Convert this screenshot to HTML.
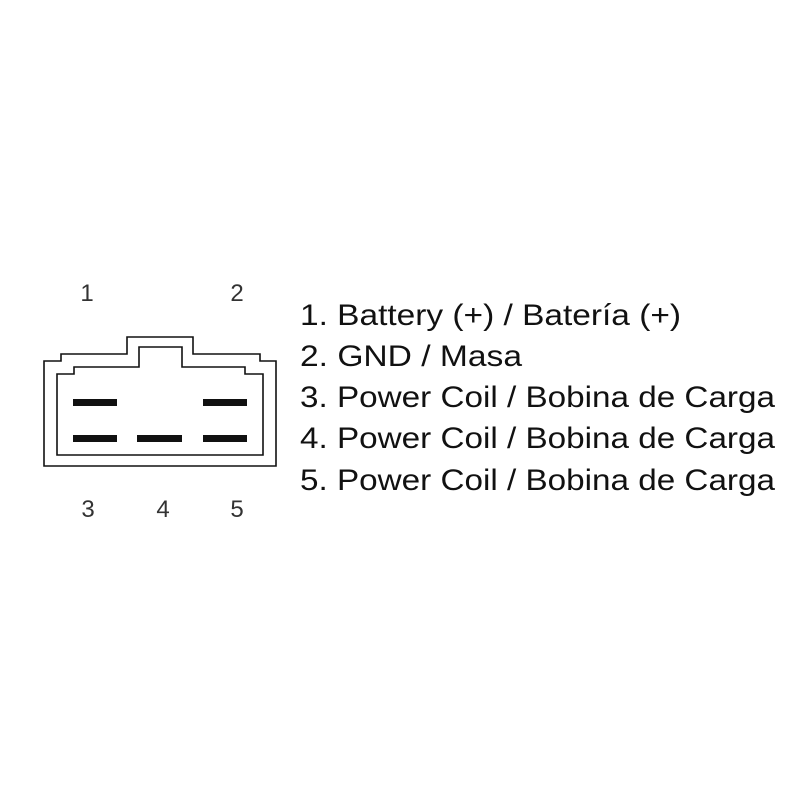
<!DOCTYPE html>
<html><head><style>body{margin:0;background:#fff}</style></head><body>
<svg width="800" height="800" xmlns="http://www.w3.org/2000/svg">
<rect width="800" height="800" fill="#fff"/>
<g fill="none" stroke="#111" stroke-width="1.6">
<path d="M44,361 H61 V354 H127 V337 H193 V354 H260 V361 H276 V466 H44 Z"/>
<path d="M57,374 H74 V367 H139 V347 H182 V367 H245 V374 H263 V455 H57 Z"/>
</g>
<g fill="#111">
<rect x="73" y="399" width="44" height="7"/>
<rect x="203" y="399" width="44" height="7"/>
<rect x="73" y="435" width="44" height="7"/>
<rect x="137" y="435" width="45" height="7"/>
<rect x="203" y="435" width="44" height="7"/>
</g>
<g font-family="Liberation Sans, sans-serif" font-size="24" fill="#333" text-anchor="middle">
<text x="87" y="301">1</text>
<text x="237" y="301">2</text>
<text x="88" y="517">3</text>
<text x="163" y="517">4</text>
<text x="237" y="517">5</text>
</g>
<g font-family="Liberation Sans, sans-serif" font-size="30" fill="#111">
<text x="300" y="325" textLength="381" lengthAdjust="spacingAndGlyphs">1. Battery (+) / Batería (+)</text>
<text x="300" y="366" textLength="222" lengthAdjust="spacingAndGlyphs">2. GND / Masa</text>
<text x="300" y="407" textLength="475" lengthAdjust="spacingAndGlyphs">3. Power Coil / Bobina de Carga</text>
<text x="300" y="448" textLength="475" lengthAdjust="spacingAndGlyphs">4. Power Coil / Bobina de Carga</text>
<text x="300" y="490" textLength="475" lengthAdjust="spacingAndGlyphs">5. Power Coil / Bobina de Carga</text>
</g>
</svg>
</body></html>
